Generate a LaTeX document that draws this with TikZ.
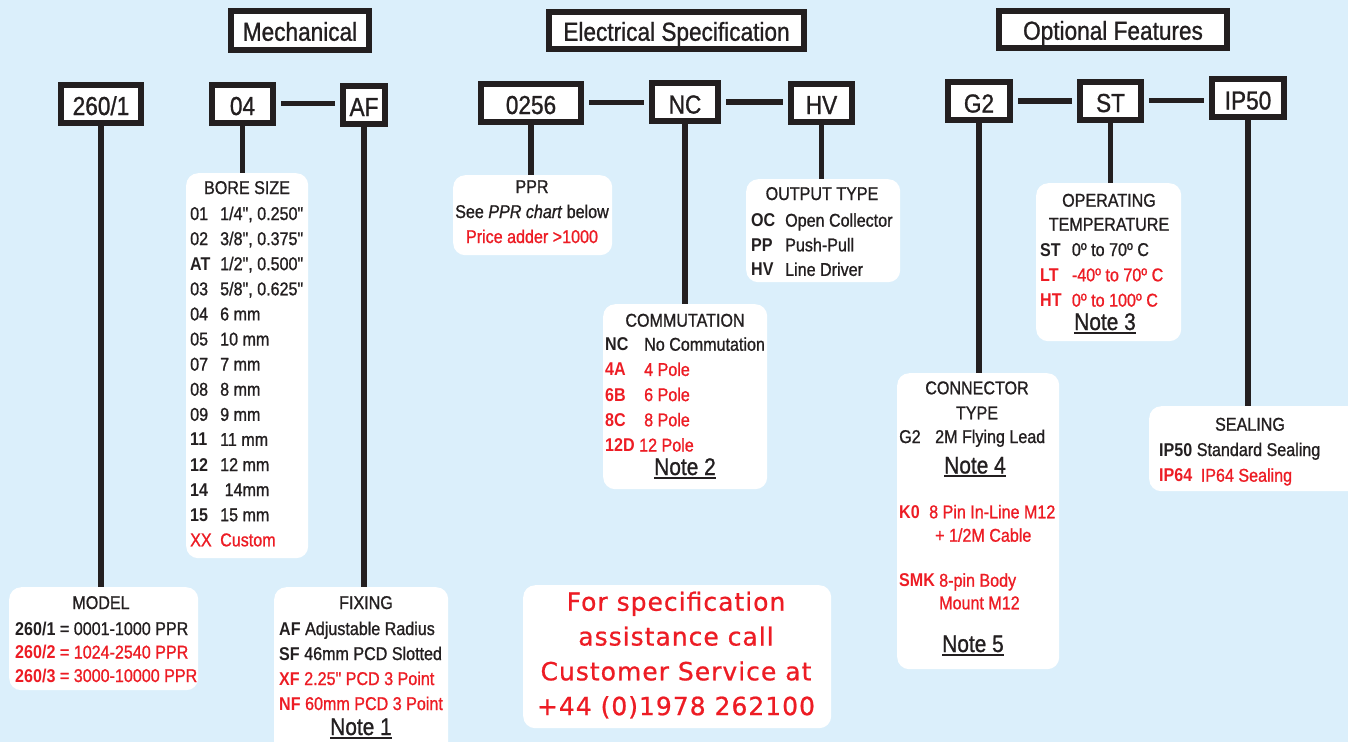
\documentclass[tikz,border=0pt]{standalone}
\usepackage{fontspec}
\setmainfont{Liberation Sans}[FakeStretch=0.87,Ligatures=TeXOff,UprightFeatures={FakeBold=1.0},ItalicFeatures={FakeBold=1.0}]
\newfontfamily\phonefont{DejaVu Sans}[LetterSpace=4.0,FakeBold=0.8]
\definecolor{skyback}{RGB}{219,239,251}
\definecolor{specred}{RGB}{237,28,36}
\definecolor{specink}{RGB}{35,31,32}
\newcommand{\rd}{\leavevmode\color{specred}}
\newcommand{\noteline}[1]{\setbox0\hbox{#1}\rlap{\rule[-3.5pt]{\wd0}{1.8pt}}\box0}
\tikzset{
  codebox/.style={draw=specink,line width=6pt,fill=white,inner sep=0pt,
    text height=23pt,text depth=0pt,font=\fontsize{26}{30}\selectfont},
  headbox/.style={codebox,text height=20.5pt},
  infobox/.style={fill=white,rounded corners=12pt,anchor=north west,inner sep=0pt},
  wire/.style={draw=specink,line width=5.5pt},
  boxtitle/.style={anchor=base,inner sep=0pt,font=\fontsize{18.5}{#1}\selectfont},
  boxtitle/.default=24.5,
  listtext/.style={anchor=base west,inner sep=0pt,font=\fontsize{18.5}{#1}\selectfont},
  listtext/.default=25,
  notetext/.style={anchor=base,inner sep=0pt,font=\fontsize{24}{28}\selectfont},
}
\begin{document}
\begin{tikzpicture}[x=1pt,y=-1pt,every node/.append style={text=specink}]
\fill[skyback] (0,0) rectangle (1348,742);
\useasboundingbox (0,0) rectangle (1348,742);

% group headings
\node[headbox,minimum width=138pt,minimum height=39pt] (hmech) at (300,30.5) {Mechanical};
\node[headbox,minimum width=255pt,minimum height=37pt] (helec) at (676.5,30.5) {Electrical Specification};
\node[headbox,minimum width=228pt,minimum height=37pt] (hopt) at (1113,29.5) {Optional Features};

% code boxes
\begin{scope}[every node/.append style={codebox,minimum height=38pt}]
  \node[minimum width=80pt] (m260) at (101,103.5) {260/1};
  \node[minimum width=61pt] (m04) at (242.5,103.5) {04};
  \node[minimum width=42pt] (maf) at (364,104.5) {AF};

  \node[minimum width=100pt] (e0256) at (531,102.5) {0256};
  \node[minimum width=66pt] (enc) at (685,102) {NC};
  \node[minimum width=61pt] (ehv) at (821.5,102.5) {HV};

  \node[minimum width=62pt] (og2) at (979,101) {G2};
  \node[minimum width=61pt] (ost) at (1110.5,100.5) {ST};
  \node[minimum width=72pt] (oip) at (1248,98) {IP50};
\end{scope}

% white info panels
\node[infobox,minimum width=189pt,minimum height=103pt] (model) at (9,587) {};
\node[infobox,minimum width=122pt,minimum height=385pt] (bore) at (186,173) {};
\node[infobox,minimum width=174pt,minimum height=175pt] (fixing) at (274,587) {};
\node[infobox,minimum width=159pt,minimum height=80pt] (ppr) at (453,175) {};
\node[infobox,minimum width=164pt,minimum height=185pt] (comm) at (603,304) {};
\node[infobox,minimum width=154pt,minimum height=103pt] (output) at (746,179) {};
\node[infobox,minimum width=145pt,minimum height=158pt] (optemp) at (1036,183) {};
\node[infobox,minimum width=162pt,minimum height=296pt] (conntype) at (897,373) {};
\node[infobox,minimum width=215pt,minimum height=85pt] (sealing) at (1149,406) {};
\node[infobox,minimum width=308pt,minimum height=143pt] (phone) at (523,585) {};

% connectors
\draw[wire,shorten <=5pt,shorten >=5pt] (m04.east) -- (m04.east -| maf.west);
\draw[wire,shorten <=5pt,shorten >=5pt] (e0256.east) -- (e0256.east -| enc.west);
\draw[wire,shorten <=5pt,shorten >=5pt] (enc.east) -- (enc.east -| ehv.west);
\draw[wire,shorten <=5pt,shorten >=5pt] (og2.east) -- (og2.east -| ost.west);
\draw[wire,shorten <=5pt,shorten >=5pt] (ost.east) -- (ost.east -| oip.west);

\draw[wire] (m260.south) -- (m260.south |- model.north);
\draw[wire] (m04.south) -- (m04.south |- bore.north);
\draw[wire] (maf.south) -- (maf.south |- fixing.north);
\draw[wire] (e0256.south) -- (e0256.south |- ppr.north);
\draw[wire] (enc.south) -- (enc.south |- comm.north);
\draw[wire] (ehv.south) -- (ehv.south |- output.north);
\draw[wire] (og2.south) -- (og2.south |- conntype.north);
\draw[wire] (ost.south) -- (ost.south |- optemp.north);
\draw[wire] (oip.south) -- (oip.south |- sealing.north);

% MODEL
\node[boxtitle] (modelt) at (101,609) {MODEL};
\node[listtext=23.5] (modell) at (15,635) {\begin{tabular}[t]{@{}l@{}}
  \textbf{260/1} = 0001-1000 PPR\\
  \rd\textbf{260/2} = 1024-2540 PPR\\
  \rd\textbf{260/3} = 3000-10000 PPR
\end{tabular}};

% BORE SIZE
\node[boxtitle] (boret) at (247,194) {BORE SIZE};
\node[listtext=25.1] (borel) at (190,220) {\begin{tabular}[t]{@{}p{30pt}@{}l@{}}
  01 & 1/4", 0.250"\\
  02 & 3/8", 0.375"\\
  \textbf{AT} & 1/2", 0.500"\\
  03 & 5/8", 0.625"\\
  04 & 6 mm\\
  05 & 10 mm\\
  07 & 7 mm\\
  08 & 8 mm\\
  09 & 9 mm\\
  \textbf{11} & 11 mm\\
  \textbf{12} & 12 mm\\
  \textbf{14} & \ 14mm\\
  \textbf{15} & 15 mm\\
  \rd XX & \rd Custom
\end{tabular}};

% FIXING
\node[boxtitle] (fixingt) at (366,609) {FIXING};
\node[listtext=25] (fixingl) at (279,635) {\begin{tabular}[t]{@{}l@{}}
  \textbf{AF} Adjustable Radius\\
  \textbf{SF} 46mm PCD Slotted\\
  \rd\textbf{XF} 2.25" PCD 3 Point\\
  \rd\textbf{NF} 60mm PCD 3 Point
\end{tabular}};
\node[notetext] (note1) at (361,735) {\noteline{Note 1}};

% PPR
\node[boxtitle=25] (pprt) at (532,193) {\begin{tabular}[t]{@{}c@{}}
  PPR\\
  See \textit{PPR chart} below\\
  \rd Price adder >1000
\end{tabular}};

% COMMUTATION
\node[boxtitle] (commt) at (685,326.7) {COMMUTATION};
\node[listtext=25.2] (comml) at (605,350.7) {\begin{tabular}[t]{@{}p{39pt}@{}l@{}}
  \textbf{NC} & No Commutation\\
  \rd\textbf{4A} & \rd 4 Pole\\
  \rd\textbf{6B} & \rd 6 Pole\\
  \rd\textbf{8C} & \rd 8 Pole\\
  \multicolumn{2}{@{}l@{}}{\rd\textbf{12D} 12 Pole}
\end{tabular}};
\node[notetext] (note2) at (685,475) {\noteline{Note 2}};

% OUTPUT TYPE
\node[boxtitle] (outputt) at (822,200) {OUTPUT TYPE};
\node[listtext=24.6] (outputl) at (751,226.7) {\begin{tabular}[t]{@{}p{34pt}@{}l@{}}
  \textbf{OC} & Open Collector\\
  \textbf{PP} & Push-Pull\\
  \textbf{HV} & Line Driver
\end{tabular}};

% OPERATING TEMPERATURE
\node[boxtitle=24] (optempt) at (1109,206.7) {\begin{tabular}[t]{@{}c@{}}
  OPERATING\\
  TEMPERATURE
\end{tabular}};
\node[listtext=25.3] (optempl) at (1040,256) {\begin{tabular}[t]{@{}p{31.7pt}@{}l@{}}
  \textbf{ST} & 0º to 70º C\\
  \rd\textbf{LT} & \rd -40º to 70º C\\
  \rd\textbf{HT} & \rd 0º to 100º C
\end{tabular}};
\node[notetext] (note3) at (1105,330) {\noteline{Note 3}};

% CONNECTOR TYPE
\node[boxtitle=25] (conntypet) at (977,394.3) {\begin{tabular}[t]{@{}c@{}}
  CONNECTOR\\
  TYPE
\end{tabular}};
\node[listtext] (connG) at (899,443) {\begin{tabular}[t]{@{}p{36pt}@{}l@{}}
  G2 & 2M Flying Lead
\end{tabular}};
\node[notetext] (note4) at (975,473.5) {\noteline{Note 4}};
\node[listtext=23.4] (connK) at (899,518.3) {\begin{tabular}[t]{@{}p{30pt}@{}l@{}}
  \rd\textbf{K0} & \rd 8 Pin In-Line M12\\
  & \rd\hspace{6pt}+ 1/2M Cable
\end{tabular}};
\node[listtext=22.6] (connS) at (899,586.7) {\begin{tabular}[t]{@{}p{40pt}@{}l@{}}
  \rd\textbf{SMK} & \rd 8-pin Body\\
  & \rd Mount M12
\end{tabular}};
\node[notetext] (note5) at (973,652) {\noteline{Note 5}};

% SEALING
\node[boxtitle] (sealingt) at (1250,430.7) {SEALING};
\node[listtext=25.7] (sealingl) at (1159,456) {\begin{tabular}[t]{@{}l@{}}
  \textbf{IP50} Standard Sealing\\
  \rd\textbf{IP64}\hspace{8.5pt}IP64 Sealing
\end{tabular}};

% call box
\node[anchor=base,inner sep=0pt,font=\phonefont\fontsize{25}{34.8}\selectfont] (phonet) at (676,610.7) {\begin{tabular}[t]{@{}c@{}}
  \rd For specification\\
  \rd assistance call\\
  \rd Customer Service at\\
  \rd +44 (0)1978 262100
\end{tabular}};

\end{tikzpicture}
\end{document}
